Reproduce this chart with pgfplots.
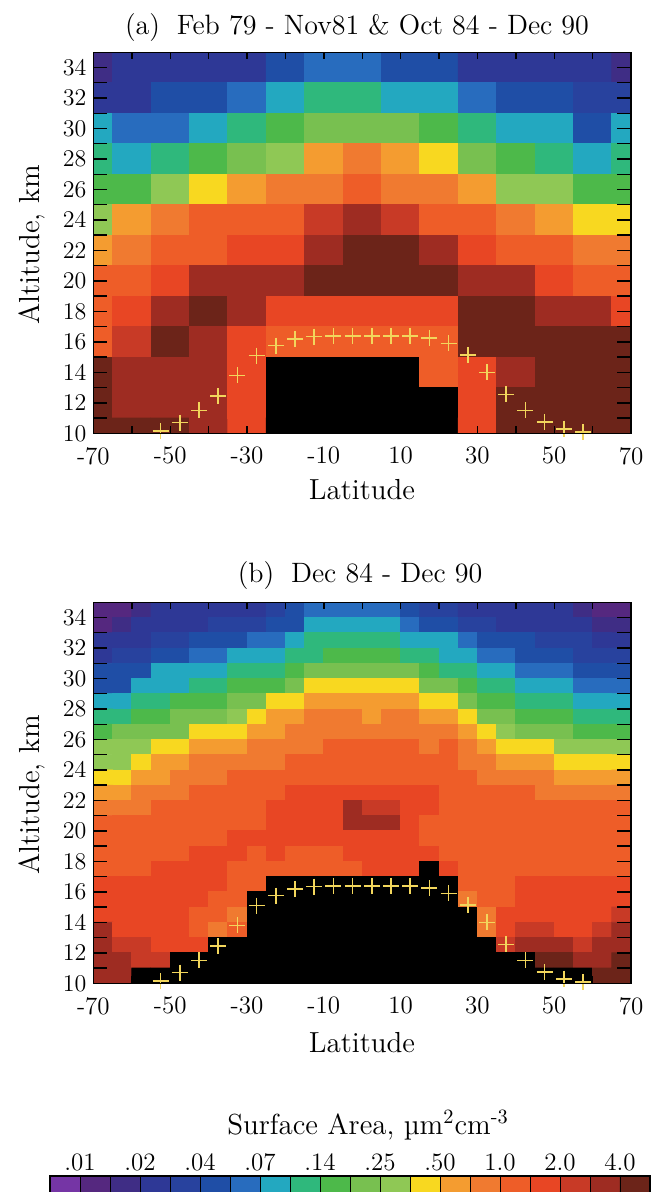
\documentclass[border=0pt]{standalone}
\usepackage{fontspec}
\usepackage{pgfplots}
\pgfplotsset{compat=1.18}
\usepackage{pgfplotstable}

% surface-area classes: index 0 = no data, 1..20 = colour bar boxes
\pgfplotsset{
  colormap={sage}{
    rgb255=(0,0,0)
    rgb255=(117,53,165)
    rgb255=(85,40,127)
    rgb255=(63,45,133)
    rgb255=(46,56,150)
    rgb255=(40,66,158)
    rgb255=(31,78,166)
    rgb255=(40,108,190)
    rgb255=(35,168,192)
    rgb255=(47,184,124)
    rgb255=(77,185,74)
    rgb255=(120,192,80)
    rgb255=(143,200,85)
    rgb255=(248,216,32)
    rgb255=(244,156,48)
    rgb255=(240,122,48)
    rgb255=(238,93,40)
    rgb255=(232,70,36)
    rgb255=(200,58,38)
    rgb255=(158,44,34)
    rgb255=(108,36,25)
  },
}
\definecolor{tropo}{RGB}{242,214,92}

% panel (a): 10 deg x 2 km bins
\pgfplotstableread[row sep=\\]{
lat alt c\\
-70 34 3\\ -60 34 4\\ -50 34 4\\ -40 34 4\\ -30 34 4\\ -20 34 6\\ -10 34 7\\ 0 34 7\\ 10 34 6\\ 20 34 6\\ 30 34 4\\ 40 34 4\\ 50 34 4\\ 60 34 4\\ 70 34 3\\
-70 32 4\\ -60 32 4\\ -50 32 6\\ -40 32 6\\ -30 32 7\\ -20 32 8\\ -10 32 9\\ 0 32 9\\ 10 32 8\\ 20 32 8\\ 30 32 7\\ 40 32 6\\ 50 32 6\\ 60 32 5\\ 70 32 5\\
-70 30 8\\ -60 30 7\\ -50 30 7\\ -40 30 8\\ -30 30 9\\ -20 30 10\\ -10 30 11\\ 0 30 11\\ 10 30 11\\ 20 30 10\\ 30 30 9\\ 40 30 8\\ 50 30 8\\ 60 30 6\\ 70 30 8\\
-70 28 9\\ -60 28 8\\ -50 28 9\\ -40 28 10\\ -30 28 11\\ -20 28 12\\ -10 28 14\\ 0 28 15\\ 10 28 14\\ 20 28 13\\ 30 28 11\\ 40 28 10\\ 50 28 9\\ 60 28 8\\ 70 28 9\\
-70 26 10\\ -60 26 10\\ -50 26 12\\ -40 26 13\\ -30 26 14\\ -20 26 15\\ -10 26 15\\ 0 26 16\\ 10 26 15\\ 20 26 15\\ 30 26 14\\ 40 26 12\\ 50 26 12\\ 60 26 10\\ 70 26 10\\
-70 24 12\\ -60 24 14\\ -50 24 15\\ -40 24 16\\ -30 24 16\\ -20 24 16\\ -10 24 18\\ 0 24 19\\ 10 24 18\\ 20 24 16\\ 30 24 16\\ 40 24 15\\ 50 24 14\\ 60 24 13\\ 70 24 13\\
-70 22 14\\ -60 22 15\\ -50 22 16\\ -40 22 16\\ -30 22 17\\ -20 22 17\\ -10 22 19\\ 0 22 20\\ 10 22 20\\ 20 22 19\\ 30 22 17\\ 40 22 16\\ 50 22 16\\ 60 22 15\\ 70 22 15\\
-70 20 16\\ -60 20 16\\ -50 20 17\\ -40 20 19\\ -30 20 19\\ -20 20 19\\ -10 20 20\\ 0 20 20\\ 10 20 20\\ 20 20 20\\ 30 20 19\\ 40 20 19\\ 50 20 17\\ 60 20 16\\ 70 20 16\\
-70 18 16\\ -60 18 17\\ -50 18 19\\ -40 18 20\\ -30 18 19\\ -20 18 17\\ -10 18 17\\ 0 18 17\\ 10 18 17\\ 20 18 17\\ 30 18 20\\ 40 18 20\\ 50 18 19\\ 60 18 19\\ 70 18 17\\
-70 16 16\\ -60 16 18\\ -50 16 20\\ -40 16 19\\ -30 16 17\\ -20 16 16\\ -10 16 16\\ 0 16 16\\ 10 16 16\\ 20 16 16\\ 30 16 20\\ 40 16 20\\ 50 16 20\\ 60 16 20\\ 70 16 20\\
-70 14 20\\ -60 14 19\\ -50 14 19\\ -40 14 19\\ -30 14 17\\ -20 14 0\\ -10 14 0\\ 0 14 0\\ 10 14 0\\ 20 14 16\\ 30 14 17\\ 40 14 19\\ 50 14 20\\ 60 14 20\\ 70 14 20\\
-70 12 20\\ -60 12 19\\ -50 12 19\\ -40 12 19\\ -30 12 17\\ -20 12 0\\ -10 12 0\\ 0 12 0\\ 10 12 0\\ 20 12 0\\ 30 12 17\\ 40 12 20\\ 50 12 20\\ 60 12 20\\ 70 12 20\\
-70 10 20\\ -60 10 20\\ -50 10 20\\ -40 10 19\\ -30 10 17\\ -20 10 0\\ -10 10 0\\ 0 10 0\\ 10 10 0\\ 20 10 0\\ 30 10 17\\ 40 10 20\\ 50 10 20\\ 60 10 20\\ 70 10 20\\
}\tblA

% panel (b): 5 deg x 1 km bins
\pgfplotstableread[row sep=\\]{
lat alt c\\
-67.5 34.5 2\\ -62.5 34.5 2\\ -57.5 34.5 3\\ -52.5 34.5 4\\ -47.5 34.5 4\\ -42.5 34.5 4\\ -37.5 34.5 4\\ -32.5 34.5 4\\ -27.5 34.5 4\\ -22.5 34.5 5\\ -17.5 34.5 6\\ -12.5 34.5 7\\ -7.5 34.5 7\\ -2.5 34.5 7\\ 2.5 34.5 7\\ 7.5 34.5 7\\ 12.5 34.5 6\\ 17.5 34.5 5\\ 22.5 34.5 5\\ 27.5 34.5 4\\ 32.5 34.5 4\\ 37.5 34.5 4\\ 42.5 34.5 4\\ 47.5 34.5 4\\ 52.5 34.5 4\\ 57.5 34.5 3\\ 62.5 34.5 2\\ 67.5 34.5 2\\
-67.5 33.5 2\\ -62.5 33.5 3\\ -57.5 33.5 4\\ -52.5 33.5 4\\ -47.5 33.5 4\\ -42.5 33.5 4\\ -37.5 33.5 5\\ -32.5 33.5 5\\ -27.5 33.5 5\\ -22.5 33.5 6\\ -17.5 33.5 6\\ -12.5 33.5 8\\ -7.5 33.5 8\\ -2.5 33.5 8\\ 2.5 33.5 8\\ 7.5 33.5 8\\ 12.5 33.5 7\\ 17.5 33.5 6\\ 22.5 33.5 6\\ 27.5 33.5 5\\ 32.5 33.5 5\\ 37.5 33.5 4\\ 42.5 33.5 4\\ 47.5 33.5 4\\ 52.5 33.5 4\\ 57.5 33.5 4\\ 62.5 33.5 3\\ 67.5 33.5 3\\
-67.5 32.5 4\\ -62.5 32.5 4\\ -57.5 32.5 4\\ -52.5 32.5 5\\ -47.5 32.5 5\\ -42.5 32.5 6\\ -37.5 32.5 6\\ -32.5 32.5 6\\ -27.5 32.5 7\\ -22.5 32.5 7\\ -17.5 32.5 8\\ -12.5 32.5 9\\ -7.5 32.5 9\\ -2.5 32.5 9\\ 2.5 32.5 9\\ 7.5 32.5 9\\ 12.5 32.5 8\\ 17.5 32.5 8\\ 22.5 32.5 8\\ 27.5 32.5 7\\ 32.5 32.5 6\\ 37.5 32.5 6\\ 42.5 32.5 6\\ 47.5 32.5 5\\ 52.5 32.5 5\\ 57.5 32.5 5\\ 62.5 32.5 4\\ 67.5 32.5 4\\
-67.5 31.5 4\\ -62.5 31.5 5\\ -57.5 31.5 5\\ -52.5 31.5 6\\ -47.5 31.5 6\\ -42.5 31.5 7\\ -37.5 31.5 7\\ -32.5 31.5 8\\ -27.5 31.5 8\\ -22.5 31.5 8\\ -17.5 31.5 9\\ -12.5 31.5 9\\ -7.5 31.5 10\\ -2.5 31.5 10\\ 2.5 31.5 10\\ 7.5 31.5 10\\ 12.5 31.5 9\\ 17.5 31.5 9\\ 22.5 31.5 8\\ 27.5 31.5 8\\ 32.5 31.5 7\\ 37.5 31.5 7\\ 42.5 31.5 6\\ 47.5 31.5 6\\ 52.5 31.5 6\\ 57.5 31.5 5\\ 62.5 31.5 5\\ 67.5 31.5 5\\
-67.5 30.5 6\\ -62.5 30.5 6\\ -57.5 30.5 6\\ -52.5 30.5 8\\ -47.5 30.5 8\\ -42.5 30.5 8\\ -37.5 30.5 8\\ -32.5 30.5 9\\ -27.5 30.5 9\\ -22.5 30.5 9\\ -17.5 30.5 10\\ -12.5 30.5 11\\ -7.5 30.5 11\\ -2.5 30.5 11\\ 2.5 30.5 11\\ 7.5 30.5 11\\ 12.5 30.5 11\\ 17.5 30.5 10\\ 22.5 30.5 9\\ 27.5 30.5 9\\ 32.5 30.5 8\\ 37.5 30.5 8\\ 42.5 30.5 7\\ 47.5 30.5 7\\ 52.5 30.5 7\\ 57.5 30.5 6\\ 62.5 30.5 6\\ 67.5 30.5 6\\
-67.5 29.5 6\\ -62.5 29.5 6\\ -57.5 29.5 8\\ -52.5 29.5 8\\ -47.5 29.5 8\\ -42.5 29.5 9\\ -37.5 29.5 9\\ -32.5 29.5 10\\ -27.5 29.5 10\\ -22.5 29.5 10\\ -17.5 29.5 11\\ -12.5 29.5 13\\ -7.5 29.5 13\\ -2.5 29.5 13\\ 2.5 29.5 13\\ 7.5 29.5 13\\ 12.5 29.5 13\\ 17.5 29.5 11\\ 22.5 29.5 11\\ 27.5 29.5 10\\ 32.5 29.5 9\\ 37.5 29.5 9\\ 42.5 29.5 8\\ 47.5 29.5 8\\ 52.5 29.5 8\\ 57.5 29.5 7\\ 62.5 29.5 7\\ 67.5 29.5 7\\
-67.5 28.5 8\\ -62.5 28.5 8\\ -57.5 28.5 9\\ -52.5 28.5 9\\ -47.5 28.5 10\\ -42.5 28.5 10\\ -37.5 28.5 10\\ -32.5 28.5 11\\ -27.5 28.5 11\\ -22.5 28.5 13\\ -17.5 28.5 13\\ -12.5 28.5 14\\ -7.5 28.5 14\\ -2.5 28.5 14\\ 2.5 28.5 14\\ 7.5 28.5 14\\ 12.5 28.5 14\\ 17.5 28.5 13\\ 22.5 28.5 13\\ 27.5 28.5 11\\ 32.5 28.5 10\\ 37.5 28.5 10\\ 42.5 28.5 9\\ 47.5 28.5 9\\ 52.5 28.5 9\\ 57.5 28.5 8\\ 62.5 28.5 8\\ 67.5 28.5 8\\
-67.5 27.5 9\\ -62.5 27.5 9\\ -57.5 27.5 10\\ -52.5 27.5 10\\ -47.5 27.5 11\\ -42.5 27.5 11\\ -37.5 27.5 11\\ -32.5 27.5 12\\ -27.5 27.5 13\\ -22.5 27.5 14\\ -17.5 27.5 14\\ -12.5 27.5 15\\ -7.5 27.5 15\\ -2.5 27.5 15\\ 2.5 27.5 14\\ 7.5 27.5 15\\ 12.5 27.5 15\\ 17.5 27.5 14\\ 22.5 27.5 14\\ 27.5 27.5 13\\ 32.5 27.5 11\\ 37.5 27.5 11\\ 42.5 27.5 10\\ 47.5 27.5 10\\ 52.5 27.5 10\\ 57.5 27.5 9\\ 62.5 27.5 9\\ 67.5 27.5 9\\
-67.5 26.5 10\\ -62.5 26.5 11\\ -57.5 26.5 11\\ -52.5 26.5 11\\ -47.5 26.5 11\\ -42.5 26.5 13\\ -37.5 26.5 13\\ -32.5 26.5 13\\ -27.5 26.5 14\\ -22.5 26.5 14\\ -17.5 26.5 15\\ -12.5 26.5 15\\ -7.5 26.5 15\\ -2.5 26.5 15\\ 2.5 26.5 15\\ 7.5 26.5 15\\ 12.5 26.5 15\\ 17.5 26.5 15\\ 22.5 26.5 15\\ 27.5 26.5 14\\ 32.5 26.5 13\\ 37.5 26.5 12\\ 42.5 26.5 11\\ 47.5 26.5 11\\ 52.5 26.5 11\\ 57.5 26.5 10\\ 62.5 26.5 10\\ 67.5 26.5 10\\
-67.5 25.5 12\\ -62.5 25.5 12\\ -57.5 25.5 12\\ -52.5 25.5 13\\ -47.5 25.5 13\\ -42.5 25.5 14\\ -37.5 25.5 14\\ -32.5 25.5 14\\ -27.5 25.5 15\\ -22.5 25.5 15\\ -17.5 25.5 15\\ -12.5 25.5 15\\ -7.5 25.5 16\\ -2.5 25.5 16\\ 2.5 25.5 16\\ 7.5 25.5 16\\ 12.5 25.5 16\\ 17.5 25.5 15\\ 22.5 25.5 16\\ 27.5 25.5 15\\ 32.5 25.5 14\\ 37.5 25.5 13\\ 42.5 25.5 13\\ 47.5 25.5 13\\ 52.5 25.5 12\\ 57.5 25.5 12\\ 62.5 25.5 12\\ 67.5 25.5 12\\
-67.5 24.5 12\\ -62.5 24.5 12\\ -57.5 24.5 13\\ -52.5 24.5 14\\ -47.5 24.5 14\\ -42.5 24.5 15\\ -37.5 24.5 15\\ -32.5 24.5 15\\ -27.5 24.5 15\\ -22.5 24.5 15\\ -17.5 24.5 16\\ -12.5 24.5 16\\ -7.5 24.5 16\\ -2.5 24.5 16\\ 2.5 24.5 16\\ 7.5 24.5 16\\ 12.5 24.5 16\\ 17.5 24.5 16\\ 22.5 24.5 16\\ 27.5 24.5 15\\ 32.5 24.5 15\\ 37.5 24.5 14\\ 42.5 24.5 14\\ 47.5 24.5 14\\ 52.5 24.5 13\\ 57.5 24.5 13\\ 62.5 24.5 13\\ 67.5 24.5 13\\
-67.5 23.5 13\\ -62.5 23.5 13\\ -57.5 23.5 14\\ -52.5 23.5 14\\ -47.5 23.5 15\\ -42.5 23.5 15\\ -37.5 23.5 15\\ -32.5 23.5 16\\ -27.5 23.5 16\\ -22.5 23.5 16\\ -17.5 23.5 16\\ -12.5 23.5 16\\ -7.5 23.5 16\\ -2.5 23.5 16\\ 2.5 23.5 16\\ 7.5 23.5 16\\ 12.5 23.5 16\\ 17.5 23.5 16\\ 22.5 23.5 16\\ 27.5 23.5 16\\ 32.5 23.5 15\\ 37.5 23.5 15\\ 42.5 23.5 15\\ 47.5 23.5 15\\ 52.5 23.5 14\\ 57.5 23.5 14\\ 62.5 23.5 14\\ 67.5 23.5 14\\
-67.5 22.5 14\\ -62.5 22.5 14\\ -57.5 22.5 15\\ -52.5 22.5 15\\ -47.5 22.5 15\\ -42.5 22.5 16\\ -37.5 22.5 16\\ -32.5 22.5 16\\ -27.5 22.5 16\\ -22.5 22.5 16\\ -17.5 22.5 17\\ -12.5 22.5 17\\ -7.5 22.5 17\\ -2.5 22.5 17\\ 2.5 22.5 17\\ 7.5 22.5 17\\ 12.5 22.5 17\\ 17.5 22.5 17\\ 22.5 22.5 16\\ 27.5 22.5 16\\ 32.5 22.5 16\\ 37.5 22.5 16\\ 42.5 22.5 16\\ 47.5 22.5 15\\ 52.5 22.5 15\\ 57.5 22.5 15\\ 62.5 22.5 15\\ 67.5 22.5 15\\
-67.5 21.5 15\\ -62.5 21.5 15\\ -57.5 21.5 15\\ -52.5 21.5 16\\ -47.5 21.5 16\\ -42.5 21.5 16\\ -37.5 21.5 16\\ -32.5 21.5 16\\ -27.5 21.5 16\\ -22.5 21.5 17\\ -17.5 21.5 17\\ -12.5 21.5 17\\ -7.5 21.5 17\\ -2.5 21.5 19\\ 2.5 21.5 18\\ 7.5 21.5 18\\ 12.5 21.5 17\\ 17.5 21.5 17\\ 22.5 21.5 16\\ 27.5 21.5 16\\ 32.5 21.5 16\\ 37.5 21.5 16\\ 42.5 21.5 16\\ 47.5 21.5 16\\ 52.5 21.5 16\\ 57.5 21.5 16\\ 62.5 21.5 16\\ 67.5 21.5 16\\
-67.5 20.5 16\\ -62.5 20.5 16\\ -57.5 20.5 16\\ -52.5 20.5 16\\ -47.5 20.5 16\\ -42.5 20.5 16\\ -37.5 20.5 16\\ -32.5 20.5 16\\ -27.5 20.5 16\\ -22.5 20.5 17\\ -17.5 20.5 17\\ -12.5 20.5 17\\ -7.5 20.5 17\\ -2.5 20.5 19\\ 2.5 20.5 19\\ 7.5 20.5 19\\ 12.5 20.5 17\\ 17.5 20.5 16\\ 22.5 20.5 16\\ 27.5 20.5 16\\ 32.5 20.5 16\\ 37.5 20.5 16\\ 42.5 20.5 16\\ 47.5 20.5 16\\ 52.5 20.5 16\\ 57.5 20.5 16\\ 62.5 20.5 16\\ 67.5 20.5 16\\
-67.5 19.5 16\\ -62.5 19.5 16\\ -57.5 19.5 16\\ -52.5 19.5 16\\ -47.5 19.5 16\\ -42.5 19.5 16\\ -37.5 19.5 16\\ -32.5 19.5 17\\ -27.5 19.5 17\\ -22.5 19.5 17\\ -17.5 19.5 17\\ -12.5 19.5 17\\ -7.5 19.5 17\\ -2.5 19.5 17\\ 2.5 19.5 17\\ 7.5 19.5 17\\ 12.5 19.5 17\\ 17.5 19.5 16\\ 22.5 19.5 16\\ 27.5 19.5 16\\ 32.5 19.5 16\\ 37.5 19.5 16\\ 42.5 19.5 16\\ 47.5 19.5 16\\ 52.5 19.5 16\\ 57.5 19.5 16\\ 62.5 19.5 16\\ 67.5 19.5 16\\
-67.5 18.5 16\\ -62.5 18.5 16\\ -57.5 18.5 16\\ -52.5 18.5 16\\ -47.5 18.5 16\\ -42.5 18.5 17\\ -37.5 18.5 17\\ -32.5 18.5 17\\ -27.5 18.5 16\\ -22.5 18.5 17\\ -17.5 18.5 16\\ -12.5 18.5 16\\ -7.5 18.5 16\\ -2.5 18.5 17\\ 2.5 18.5 17\\ 7.5 18.5 17\\ 12.5 18.5 17\\ 17.5 18.5 17\\ 22.5 18.5 16\\ 27.5 18.5 16\\ 32.5 18.5 16\\ 37.5 18.5 16\\ 42.5 18.5 16\\ 47.5 18.5 16\\ 52.5 18.5 16\\ 57.5 18.5 16\\ 62.5 18.5 16\\ 67.5 18.5 16\\
-67.5 17.5 16\\ -62.5 17.5 16\\ -57.5 17.5 16\\ -52.5 17.5 17\\ -47.5 17.5 17\\ -42.5 17.5 17\\ -37.5 17.5 17\\ -32.5 17.5 16\\ -27.5 17.5 16\\ -22.5 17.5 16\\ -17.5 17.5 16\\ -12.5 17.5 16\\ -7.5 17.5 16\\ -2.5 17.5 16\\ 2.5 17.5 17\\ 7.5 17.5 17\\ 12.5 17.5 17\\ 17.5 17.5 0\\ 22.5 17.5 17\\ 27.5 17.5 16\\ 32.5 17.5 16\\ 37.5 17.5 16\\ 42.5 17.5 16\\ 47.5 17.5 16\\ 52.5 17.5 16\\ 57.5 17.5 16\\ 62.5 17.5 16\\ 67.5 17.5 16\\
-67.5 16.5 17\\ -62.5 16.5 17\\ -57.5 16.5 17\\ -52.5 16.5 17\\ -47.5 16.5 17\\ -42.5 16.5 17\\ -37.5 16.5 17\\ -32.5 16.5 16\\ -27.5 16.5 16\\ -22.5 16.5 0\\ -17.5 16.5 0\\ -12.5 16.5 0\\ -7.5 16.5 0\\ -2.5 16.5 0\\ 2.5 16.5 0\\ 7.5 16.5 0\\ 12.5 16.5 0\\ 17.5 16.5 0\\ 22.5 16.5 0\\ 27.5 16.5 16\\ 32.5 16.5 16\\ 37.5 16.5 16\\ 42.5 16.5 17\\ 47.5 16.5 17\\ 52.5 16.5 17\\ 57.5 16.5 17\\ 62.5 16.5 17\\ 67.5 16.5 17\\
-67.5 15.5 17\\ -62.5 15.5 17\\ -57.5 15.5 17\\ -52.5 15.5 17\\ -47.5 15.5 17\\ -42.5 15.5 17\\ -37.5 15.5 16\\ -32.5 15.5 16\\ -27.5 15.5 0\\ -22.5 15.5 0\\ -17.5 15.5 0\\ -12.5 15.5 0\\ -7.5 15.5 0\\ -2.5 15.5 0\\ 2.5 15.5 0\\ 7.5 15.5 0\\ 12.5 15.5 0\\ 17.5 15.5 0\\ 22.5 15.5 0\\ 27.5 15.5 15\\ 32.5 15.5 16\\ 37.5 15.5 16\\ 42.5 15.5 17\\ 47.5 15.5 17\\ 52.5 15.5 17\\ 57.5 15.5 17\\ 62.5 15.5 17\\ 67.5 15.5 17\\
-67.5 14.5 17\\ -62.5 14.5 17\\ -57.5 14.5 17\\ -52.5 14.5 17\\ -47.5 14.5 17\\ -42.5 14.5 16\\ -37.5 14.5 16\\ -32.5 14.5 15\\ -27.5 14.5 0\\ -22.5 14.5 0\\ -17.5 14.5 0\\ -12.5 14.5 0\\ -7.5 14.5 0\\ -2.5 14.5 0\\ 2.5 14.5 0\\ 7.5 14.5 0\\ 12.5 14.5 0\\ 17.5 14.5 0\\ 22.5 14.5 0\\ 27.5 14.5 0\\ 32.5 14.5 15\\ 37.5 14.5 17\\ 42.5 14.5 17\\ 47.5 14.5 17\\ 52.5 14.5 17\\ 57.5 14.5 17\\ 62.5 14.5 17\\ 67.5 14.5 18\\
-67.5 13.5 19\\ -62.5 13.5 17\\ -57.5 13.5 17\\ -52.5 13.5 17\\ -47.5 13.5 17\\ -42.5 13.5 16\\ -37.5 13.5 15\\ -32.5 13.5 16\\ -27.5 13.5 0\\ -22.5 13.5 0\\ -17.5 13.5 0\\ -12.5 13.5 0\\ -7.5 13.5 0\\ -2.5 13.5 0\\ 2.5 13.5 0\\ 7.5 13.5 0\\ 12.5 13.5 0\\ 17.5 13.5 0\\ 22.5 13.5 0\\ 27.5 13.5 0\\ 32.5 13.5 15\\ 37.5 13.5 17\\ 42.5 13.5 18\\ 47.5 13.5 18\\ 52.5 13.5 17\\ 57.5 13.5 17\\ 62.5 13.5 18\\ 67.5 13.5 19\\
-67.5 12.5 19\\ -62.5 12.5 18\\ -57.5 12.5 18\\ -52.5 12.5 17\\ -47.5 12.5 17\\ -42.5 12.5 17\\ -37.5 12.5 0\\ -32.5 12.5 0\\ -27.5 12.5 0\\ -22.5 12.5 0\\ -17.5 12.5 0\\ -12.5 12.5 0\\ -7.5 12.5 0\\ -2.5 12.5 0\\ 2.5 12.5 0\\ 7.5 12.5 0\\ 12.5 12.5 0\\ 17.5 12.5 0\\ 22.5 12.5 0\\ 27.5 12.5 0\\ 32.5 12.5 0\\ 37.5 12.5 18\\ 42.5 12.5 19\\ 47.5 12.5 19\\ 52.5 12.5 19\\ 57.5 12.5 18\\ 62.5 12.5 19\\ 67.5 12.5 19\\
-67.5 11.5 19\\ -62.5 11.5 19\\ -57.5 11.5 18\\ -52.5 11.5 18\\ -47.5 11.5 0\\ -42.5 11.5 0\\ -37.5 11.5 0\\ -32.5 11.5 0\\ -27.5 11.5 0\\ -22.5 11.5 0\\ -17.5 11.5 0\\ -12.5 11.5 0\\ -7.5 11.5 0\\ -2.5 11.5 0\\ 2.5 11.5 0\\ 7.5 11.5 0\\ 12.5 11.5 0\\ 17.5 11.5 0\\ 22.5 11.5 0\\ 27.5 11.5 0\\ 32.5 11.5 0\\ 37.5 11.5 0\\ 42.5 11.5 0\\ 47.5 11.5 20\\ 52.5 11.5 20\\ 57.5 11.5 19\\ 62.5 11.5 19\\ 67.5 11.5 20\\
-67.5 10.5 19\\ -62.5 10.5 19\\ -57.5 10.5 0\\ -52.5 10.5 0\\ -47.5 10.5 0\\ -42.5 10.5 0\\ -37.5 10.5 0\\ -32.5 10.5 0\\ -27.5 10.5 0\\ -22.5 10.5 0\\ -17.5 10.5 0\\ -12.5 10.5 0\\ -7.5 10.5 0\\ -2.5 10.5 0\\ 2.5 10.5 0\\ 7.5 10.5 0\\ 12.5 10.5 0\\ 17.5 10.5 0\\ 22.5 10.5 0\\ 27.5 10.5 0\\ 32.5 10.5 0\\ 37.5 10.5 0\\ 42.5 10.5 0\\ 47.5 10.5 0\\ 52.5 10.5 0\\ 57.5 10.5 0\\ 62.5 10.5 20\\ 67.5 10.5 20\\
}\tblB

% tropopause height
\pgfplotstableread{
lat alt
-52.5 10.15
-47.5 10.7
-42.5 11.5
-37.5 12.45
-32.5 13.8
-27.5 15.1
-22.5 15.75
-17.5 16.2
-12.5 16.35
-7.5 16.4
-2.5 16.4
2.5 16.4
7.5 16.4
12.5 16.4
17.5 16.25
22.5 15.9
27.5 15.15
32.5 14.0
37.5 12.55
42.5 11.5
47.5 10.75
52.5 10.3
57.5 10.1
}\tblTropo

% colour bar boxes
\pgfplotstableread[row sep=\\]{
x y c\\
0.5 0.25 1\\ 1.5 0.25 2\\ 2.5 0.25 3\\ 3.5 0.25 4\\ 4.5 0.25 5\\ 5.5 0.25 6\\ 6.5 0.25 7\\ 7.5 0.25 8\\ 8.5 0.25 9\\ 9.5 0.25 10\\ 10.5 0.25 11\\ 11.5 0.25 12\\ 12.5 0.25 13\\ 13.5 0.25 14\\ 14.5 0.25 15\\ 15.5 0.25 16\\ 16.5 0.25 17\\ 17.5 0.25 18\\ 18.5 0.25 19\\ 19.5 0.25 20\\
0.5 0.75 1\\ 1.5 0.75 2\\ 2.5 0.75 3\\ 3.5 0.75 4\\ 4.5 0.75 5\\ 5.5 0.75 6\\ 6.5 0.75 7\\ 7.5 0.75 8\\ 8.5 0.75 9\\ 9.5 0.75 10\\ 10.5 0.75 11\\ 11.5 0.75 12\\ 12.5 0.75 13\\ 13.5 0.75 14\\ 14.5 0.75 15\\ 15.5 0.75 16\\ 16.5 0.75 17\\ 17.5 0.75 18\\ 18.5 0.75 19\\ 19.5 0.75 20\\
}\tblBar

\newcommand\labfont{\fontsize{14.5}{17}\selectfont}

\pgfplotsset{
  panel/.style={
    scale only axis, width=268.8pt, height=190.5pt,
    anchor=south west,
    xmin=-70, xmax=70, ymin=10, ymax=35,
    xtick={-70,-50,...,70},
    xticklabels={-70,-50,-30,-10,10,30,50,70},
    minor xtick={-60,-40,...,60},
    ytick={10,12,...,34},
    minor ytick={11,13,...,35},
    tick align=inside,
    major tick length=7pt, minor tick length=7pt,
    xtick style={/pgfplots/major tick length=3.5pt,/pgfplots/minor tick length=3.5pt},
    tick style={black, line width=0.7pt},
    axis line style={line width=0.7pt},
    tick label style={font=\fontsize{12.5}{14}\selectfont},
    xticklabel style={yshift=-3.5pt},
    axis on top,
    colormap name=sage, colormap access=direct,
    clip mode=individual,
  },
  cells/.style={matrix plot*, point meta=explicit},
  tropo/.style={only marks, mark=+, mark size=4pt, color=tropo,
    mark options={line width=0.8pt}},
}

\begin{document}
\begin{tikzpicture}
\useasboundingbox (0,0) rectangle (328pt,596pt);

% (a) combined record
\begin{axis}[panel, at={(46.7pt,379.35pt)}]
  \addplot[cells, mesh/cols=15] table[x=lat, y=alt, meta=c] {\tblA};
  \addplot[tropo] table[x=lat, y=alt] {\tblTropo};
\end{axis}

% (b) SAGE II period
\begin{axis}[panel, at={(46.7pt,104.35pt)}]
  \addplot[cells, mesh/cols=28] table[x=lat, y=alt, meta=c] {\tblB};
  \addplot[tropo] table[x=lat, y=alt] {\tblTropo};
\end{axis}

% colour bar
\begin{axis}[
  scale only axis, width=300pt, height=16pt,
  at={(25pt,8pt)}, anchor=north west,
  xmin=0, xmax=20, ymin=0, ymax=1,
  xtick={1,3,...,19},
  xticklabels={.01,.02,.04,.07,.14,.25,.50,1.0,2.0,4.0},
  minor xtick={2,4,...,18},
  xtick pos=right, xticklabel pos=right,
  major tick length=0pt, minor tick length=0pt,
  ytick=\empty,
  xmajorgrids, xminorgrids,
  grid style={black, line width=0.5pt},
  minor grid style={black, line width=0.5pt},
  axis line style={line width=0.6pt},
  tick label style={font=\fontsize{12.5}{14}\selectfont},
  xticklabel style={yshift=-1pt},
  axis on top,
  colormap name=sage, colormap access=direct,
]
  \addplot[cells, mesh/cols=20] table[x=x, y=y, meta=c] {\tblBar};
\end{axis}

\node[font=\fontsize{14}{16}\selectfont] at (178.5pt,582pt)
  {(a)\hspace{0.6em}Feb 79 - Nov81 \& Oct 84 - Dec 90};
\node[font=\fontsize{14}{16}\selectfont] at (180pt,308pt)
  {(b)\hspace{0.6em}Dec 84 - Dec 90};
\node[font=\labfont] at (181pt,351pt) {Latitude};
\node[font=\labfont] at (181pt,74.5pt) {Latitude};
\node[font=\labfont, rotate=90] at (16pt,473.5pt) {Altitude, km};
\node[font=\labfont, rotate=90] at (16pt,198.5pt) {Altitude, km};
\node[font=\labfont] at (184pt,33.5pt)
  {Surface Area, \symbol{"B5}m\textsuperscript{2}cm\textsuperscript{-3}};
\end{tikzpicture}
\end{document}
